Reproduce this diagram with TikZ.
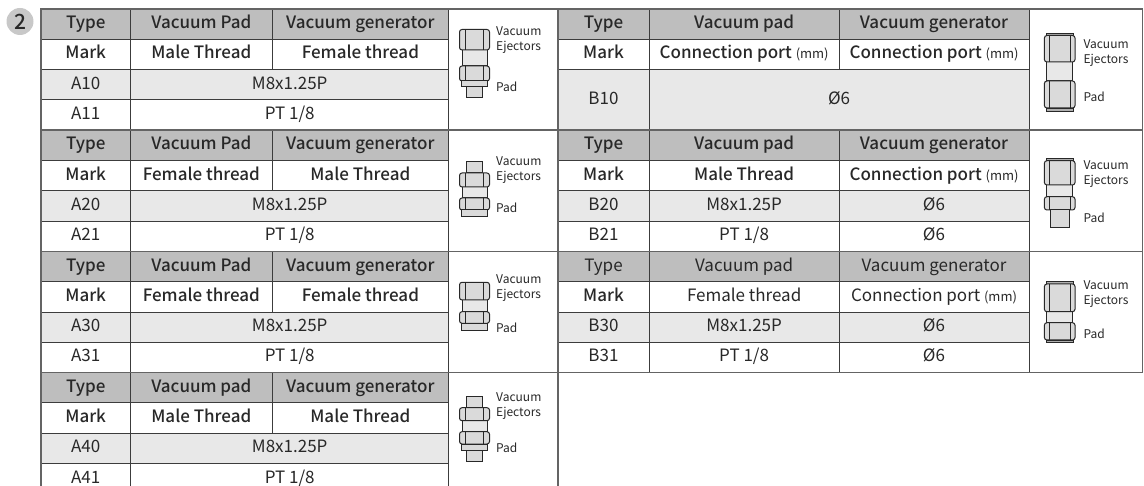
\documentclass[tikz,border=0pt]{standalone}
\usepackage{fontspec}
\setmainfont{Noto Sans CJK KR}
\newfontfamily\medfont{Noto Sans CJK KR Medium}
\usetikzlibrary{positioning}

\definecolor{hdrgray}{RGB}{190,190,190}
\definecolor{rowgray}{RGB}{232,232,232}
\definecolor{rulegray}{RGB}{60,60,60}
\definecolor{framegray}{RGB}{100,100,100}
\definecolor{badgegray}{RGB}{200,200,200}
\definecolor{inkgray}{RGB}{40,40,40}
\definecolor{nutgray}{RGB}{218,218,218}
\definecolor{bodygray}{RGB}{232,232,232}
\definecolor{collargray}{RGB}{175,175,175}

\begin{document}
\begin{tikzpicture}[x=1pt,y=-1pt]

\useasboundingbox (0,0) rectangle (1144,486);
\clip (0,0) rectangle (1144,486);

\tikzstyle{cell} = [draw=rulegray,line width=0.8pt,minimum height=30.3pt,inner sep=0pt,outer sep=0pt,text height=12.5pt,text depth=3.5pt,text=inkgray,font=\fontsize{17}{20}\selectfont]
\tikzstyle{head} = [cell,fill=hdrgray,font=\medfont\fontsize{17}{20}\selectfont]
\tikzstyle{markrow} = [cell,fill=white,font=\medfont\fontsize{17}{20}\selectfont]
\tikzstyle{datagray} = [cell,fill=rowgray]
\tikzstyle{datawhite} = [cell,fill=white]
\tikzstyle{iconcell} = [draw=rulegray,line width=0.8pt,fill=white,minimum height=121.2pt,inner sep=0pt,outer sep=0pt,anchor=north west]
\tikzstyle{wtype} = [minimum width=90pt]
\tikzstyle{wpad} = [minimum width=141.3pt]
\tikzstyle{wgen} = [minimum width=176.7pt]
\tikzstyle{wboth} = [minimum width=318pt]
\tikzstyle{wicon} = [minimum width=109pt]
\tikzstyle{rtype} = [minimum width=91.6pt]
\tikzstyle{rpad} = [minimum width=189.7pt]
\tikzstyle{rgen} = [minimum width=190pt]
\tikzstyle{rboth} = [minimum width=379.7pt]
\tikzstyle{ricon} = [minimum width=113.5pt]
\tikzstyle{frame} = [draw=framegray,line width=1.6pt]
\tikzstyle{nut} = [draw=inkgray,line width=1pt,fill=nutgray,rounded corners=2.5pt]
\tikzstyle{nutline} = [draw=inkgray,line width=0.9pt]
\tikzstyle{body} = [draw=inkgray,line width=1pt,fill=bodygray]
\tikzstyle{stub} = [draw=inkgray,line width=1pt,fill=nutgray]
\tikzstyle{collar} = [draw=inkgray,line width=0.8pt,fill=collargray]
\tikzstyle{icontext} = [anchor=west,align=left,inner sep=0pt,text=inkgray,font=\fontsize{12}{15}\selectfont]

\node[circle,fill=badgegray,minimum size=27pt,inner sep=0pt,text=inkgray,font=\medfont\fontsize{21}{22}\selectfont] (badge) at (20,21.5) {2};

\node[head,wtype] (t1type) at (85.7,24.15) {Type};
\node[head,wpad,right=0pt of t1type] (t1pad) {Vacuum Pad};
\node[head,wgen,right=0pt of t1pad] (t1gen) {Vacuum generator};
\node[markrow,wtype,below=0pt of t1type] (t1mark) {Mark};
\node[markrow,wpad,right=0pt of t1mark] (t1padth) {Male Thread};
\node[markrow,wgen,right=0pt of t1padth] (t1genth) {Female thread};
\node[datagray,wtype,below=0pt of t1mark] (t1a10) {A10};
\node[datagray,wboth,right=0pt of t1a10] (t1m8) {M8x1.25P};
\node[datawhite,wtype,below=0pt of t1a10] (t1a11) {A11};
\node[datawhite,wboth,right=0pt of t1a11] (t1pt) {PT 1/8};
\node[iconcell,wicon] (t1icon) at (t1gen.north east) {};

\node[head,wtype] (t2type) at (85.7,145.35) {Type};
\node[head,wpad,right=0pt of t2type] (t2pad) {Vacuum Pad};
\node[head,wgen,right=0pt of t2pad] (t2gen) {Vacuum generator};
\node[markrow,wtype,below=0pt of t2type] (t2mark) {Mark};
\node[markrow,wpad,right=0pt of t2mark] (t2padth) {Female thread};
\node[markrow,wgen,right=0pt of t2padth] (t2genth) {Male Thread};
\node[datagray,wtype,below=0pt of t2mark] (t2a20) {A20};
\node[datagray,wboth,right=0pt of t2a20] (t2m8) {M8x1.25P};
\node[datawhite,wtype,below=0pt of t2a20] (t2a21) {A21};
\node[datawhite,wboth,right=0pt of t2a21] (t2pt) {PT 1/8};
\node[iconcell,wicon] (t2icon) at (t2gen.north east) {};

\node[head,wtype] (t3type) at (85.7,266.55) {Type};
\node[head,wpad,right=0pt of t3type] (t3pad) {Vacuum Pad};
\node[head,wgen,right=0pt of t3pad] (t3gen) {Vacuum generator};
\node[markrow,wtype,below=0pt of t3type] (t3mark) {Mark};
\node[markrow,wpad,right=0pt of t3mark] (t3padth) {Female thread};
\node[markrow,wgen,right=0pt of t3padth] (t3genth) {Female thread};
\node[datagray,wtype,below=0pt of t3mark] (t3a30) {A30};
\node[datagray,wboth,right=0pt of t3a30] (t3m8) {M8x1.25P};
\node[datawhite,wtype,below=0pt of t3a30] (t3a31) {A31};
\node[datawhite,wboth,right=0pt of t3a31] (t3pt) {PT 1/8};
\node[iconcell,wicon] (t3icon) at (t3gen.north east) {};

\node[head,wtype] (t4type) at (85.7,387.75) {Type};
\node[head,wpad,right=0pt of t4type] (t4pad) {Vacuum pad};
\node[head,wgen,right=0pt of t4pad] (t4gen) {Vacuum generator};
\node[markrow,wtype,below=0pt of t4type] (t4mark) {Mark};
\node[markrow,wpad,right=0pt of t4mark] (t4padth) {Male Thread};
\node[markrow,wgen,right=0pt of t4padth] (t4genth) {Male Thread};
\node[datagray,wtype,below=0pt of t4mark] (t4a40) {A40};
\node[datagray,wboth,right=0pt of t4a40] (t4m8) {M8x1.25P};
\node[datawhite,wtype,below=0pt of t4a40] (t4a41) {A41};
\node[datawhite,wboth,right=0pt of t4a41] (t4pt) {PT 1/8};
\node[iconcell,wicon] (t4icon) at (t4gen.north east) {};

\node[head,rtype] (r1type) at (603.5,24.15) {Type};
\node[head,rpad,right=0pt of r1type] (r1pad) {Vacuum pad};
\node[head,rgen,right=0pt of r1pad] (r1gen) {Vacuum generator};
\node[markrow,rtype,below=0pt of r1type] (r1mark) {Mark};
\node[markrow,rpad,right=0pt of r1mark] (r1padport) {Connection port {\normalfont\fontsize{13}{15}\selectfont (mm)}};
\node[markrow,rgen,right=0pt of r1padport] (r1genport) {Connection port {\normalfont\fontsize{13}{15}\selectfont (mm)}};
\node[datagray,rtype,minimum height=60.6pt,below=0pt of r1mark] (r1b10) {B10};
\node[datagray,rboth,minimum height=60.6pt,right=0pt of r1b10] (r1dia) {Ø6};
\node[iconcell,ricon] (r1icon) at (r1gen.north east) {};

\node[head,rtype] (r2type) at (603.5,145.35) {Type};
\node[head,rpad,right=0pt of r2type] (r2pad) {Vacuum pad};
\node[head,rgen,right=0pt of r2pad] (r2gen) {Vacuum generator};
\node[markrow,rtype,below=0pt of r2type] (r2mark) {Mark};
\node[markrow,rpad,right=0pt of r2mark] (r2padth) {Male Thread};
\node[markrow,rgen,right=0pt of r2padth] (r2genport) {Connection port {\normalfont\fontsize{13}{15}\selectfont (mm)}};
\node[datagray,rtype,below=0pt of r2mark] (r2b20) {B20};
\node[datagray,rpad,right=0pt of r2b20] (r2m8) {M8x1.25P};
\node[datagray,rgen,right=0pt of r2m8] (r2dia) {Ø6};
\node[datawhite,rtype,below=0pt of r2b20] (r2b21) {B21};
\node[datawhite,rpad,right=0pt of r2b21] (r2pt) {PT 1/8};
\node[datawhite,rgen,right=0pt of r2pt] (r2diab) {Ø6};
\node[iconcell,ricon] (r2icon) at (r2gen.north east) {};

\node[head,rtype,font=\fontsize{17}{20}\selectfont] (r3type) at (603.5,266.55) {Type};
\node[head,rpad,right=0pt of r3type,font=\fontsize{17}{20}\selectfont] (r3pad) {Vacuum pad};
\node[head,rgen,right=0pt of r3pad,font=\fontsize{17}{20}\selectfont] (r3gen) {Vacuum generator};
\node[markrow,rtype,below=0pt of r3type] (r3mark) {Mark};
\node[datawhite,rpad,right=0pt of r3mark] (r3padth) {Female thread};
\node[datawhite,rgen,right=0pt of r3padth] (r3genport) {Connection port {\fontsize{13}{15}\selectfont (mm)}};
\node[datagray,rtype,below=0pt of r3mark] (r3b30) {B30};
\node[datagray,rpad,right=0pt of r3b30] (r3m8) {M8x1.25P};
\node[datagray,rgen,right=0pt of r3m8] (r3dia) {Ø6};
\node[datawhite,rtype,below=0pt of r3b30] (r3b31) {B31};
\node[datawhite,rpad,right=0pt of r3b31] (r3pt) {PT 1/8};
\node[datawhite,rgen,right=0pt of r3pt] (r3diab) {Ø6};
\node[iconcell,ricon] (r3icon) at (r3gen.north east) {};

\draw[frame] (t1type.north west) rectangle (t1icon.south east);
\draw[frame] (t2type.north west) rectangle (t2icon.south east);
\draw[frame] (t3type.north west) rectangle (t3icon.south east);
\draw[frame] (t4type.north west) rectangle (t4icon.south east);
\draw[frame] (r1type.north west) rectangle (r1icon.south east);
\draw[frame] (r2type.north west) rectangle (r2icon.south east);
\draw[frame] (r3type.north west) rectangle (r3icon.south east);

\begin{scope}[shift={(474.5,9)}]
\draw[body] (-12.5,41) rectangle (12.5,57);
\draw[nut] (-15,20.5) rectangle (15,41);
\draw[nutline] (-9,20.5) -- (-9,41) (9,20.5) -- (9,41);
\draw[nut] (-15,57) rectangle (15,72);
\draw[nutline] (-9,57) -- (-9,72) (9,57) -- (9,72);
\draw[stub] (-13.3,72) rectangle (13.3,78);
\draw[stub] (-8.3,78) rectangle (8.3,89);
\end{scope}
\node[icontext] (t1vac) at (496,40.5) {Vacuum\\Ejectors};
\node[icontext] (t1padtxt) at (496,87.3) {Pad};

\begin{scope}[shift={(474.5,130.2)}]
\draw[stub] (-8.3,31.8) rectangle (8.3,42.8);
\draw[body] (-12.5,56.8) rectangle (12.5,67.8);
\draw[nut] (-15,42.8) rectangle (15,56.8);
\draw[nutline] (-9,42.8) -- (-9,56.8) (9,42.8) -- (9,56.8);
\draw[nut] (-15,67.8) rectangle (15,79.8);
\draw[nutline] (-9,67.8) -- (-9,79.8) (9,67.8) -- (9,79.8);
\draw[stub] (-13.3,79.8) rectangle (13.3,86.8);
\end{scope}
\node[icontext] (t2vac) at (496,170.4) {Vacuum\\Ejectors};
\node[icontext] (t2padtxt) at (496,208) {Pad};

\begin{scope}[shift={(474.5,251.4)}]
\draw[body] (-12.5,48.6) rectangle (12.5,60.3);
\draw[nut] (-15,30.9) rectangle (15,48.6);
\draw[nutline] (-9,30.9) -- (-9,48.6) (9,30.9) -- (9,48.6);
\draw[nut] (-15,60.3) rectangle (15,71.9);
\draw[nutline] (-9,60.3) -- (-9,71.9) (9,60.3) -- (9,71.9);
\draw[stub] (-13.3,71.9) rectangle (13.3,79.6);
\end{scope}
\node[icontext] (t3vac) at (496,287.9) {Vacuum\\Ejectors};
\node[icontext] (t3padtxt) at (496,327.7) {Pad};

\begin{scope}[shift={(474.5,372.6)}]
\draw[stub] (-8.3,24.1) rectangle (8.3,35.1);
\draw[body] (-12.5,48.1) rectangle (12.5,59.1);
\draw[nut] (-15,35.1) rectangle (15,48.1);
\draw[nutline] (-9,35.1) -- (-9,48.1) (9,35.1) -- (9,48.1);
\draw[nut] (-15,59.1) rectangle (15,71.4);
\draw[nutline] (-9,59.1) -- (-9,71.4) (9,59.1) -- (9,71.4);
\draw[stub] (-13.3,71.4) rectangle (13.3,77.4);
\draw[stub] (-8.3,77.4) rectangle (8.3,89.1);
\end{scope}
\node[icontext] (t4vac) at (496,406.2) {Vacuum\\Ejectors};
\node[icontext] (t4padtxt) at (496,448.3) {Pad};

\begin{scope}[shift={(1059.7,9)}]
\draw[body] (-13,53) rectangle (13,72);
\draw[collar] (-13.3,24) rectangle (13.3,26.5);
\draw[nut] (-15.3,26.5) rectangle (15.3,53);
\draw[nutline] (-10.5,26.5) -- (-10.5,53) (10.5,26.5) -- (10.5,53);
\draw[nut] (-15.3,72) rectangle (15.3,99);
\draw[nutline] (-10.5,72) -- (-10.5,99) (10.5,72) -- (10.5,99);
\draw[collar] (-13.3,99) rectangle (13.3,102);
\end{scope}
\node[icontext] (r1vac) at (1083.3,53.5) {Vacuum\\Ejectors};
\node[icontext] (r1padtxt) at (1083.3,97) {Pad};

\begin{scope}[shift={(1059.7,130.2)}]
\draw[body] (-13,54.8) rectangle (13,66.5);
\draw[collar] (-13.3,28.1) rectangle (13.3,30.5);
\draw[nut] (-15.3,30.5) rectangle (15.3,54.8);
\draw[nutline] (-10.5,30.5) -- (-10.5,54.8) (10.5,30.5) -- (10.5,54.8);
\draw[nut] (-15.3,66.5) rectangle (15.3,79.8);
\draw[nutline] (-10.5,66.5) -- (-10.5,79.8) (10.5,66.5) -- (10.5,79.8);
\draw[stub] (-9.7,79.8) rectangle (9.7,97.1);
\end{scope}
\node[icontext] (r2vac) at (1083.3,174.2) {Vacuum\\Ejectors};
\node[icontext] (r2padtxt) at (1083.3,218.3) {Pad};

\begin{scope}[shift={(1059.7,251.4)}]
\draw[body] (-13,60.3) rectangle (13,71.3);
\draw[collar] (-13.3,30.3) rectangle (13.3,32.6);
\draw[nut] (-15.3,32.6) rectangle (15.3,60.3);
\draw[nutline] (-10.5,32.6) -- (-10.5,60.3) (10.5,32.6) -- (10.5,60.3);
\draw[nut] (-15.3,71.3) rectangle (15.3,88.6);
\draw[nutline] (-10.5,71.3) -- (-10.5,88.6) (10.5,71.3) -- (10.5,88.6);
\draw[collar] (-13.3,88.6) rectangle (13.3,91.3);
\end{scope}
\node[icontext] (r3vac) at (1083.3,294.2) {Vacuum\\Ejectors};
\node[icontext] (r3padtxt) at (1083.3,334) {Pad};

\end{tikzpicture}
\end{document}
